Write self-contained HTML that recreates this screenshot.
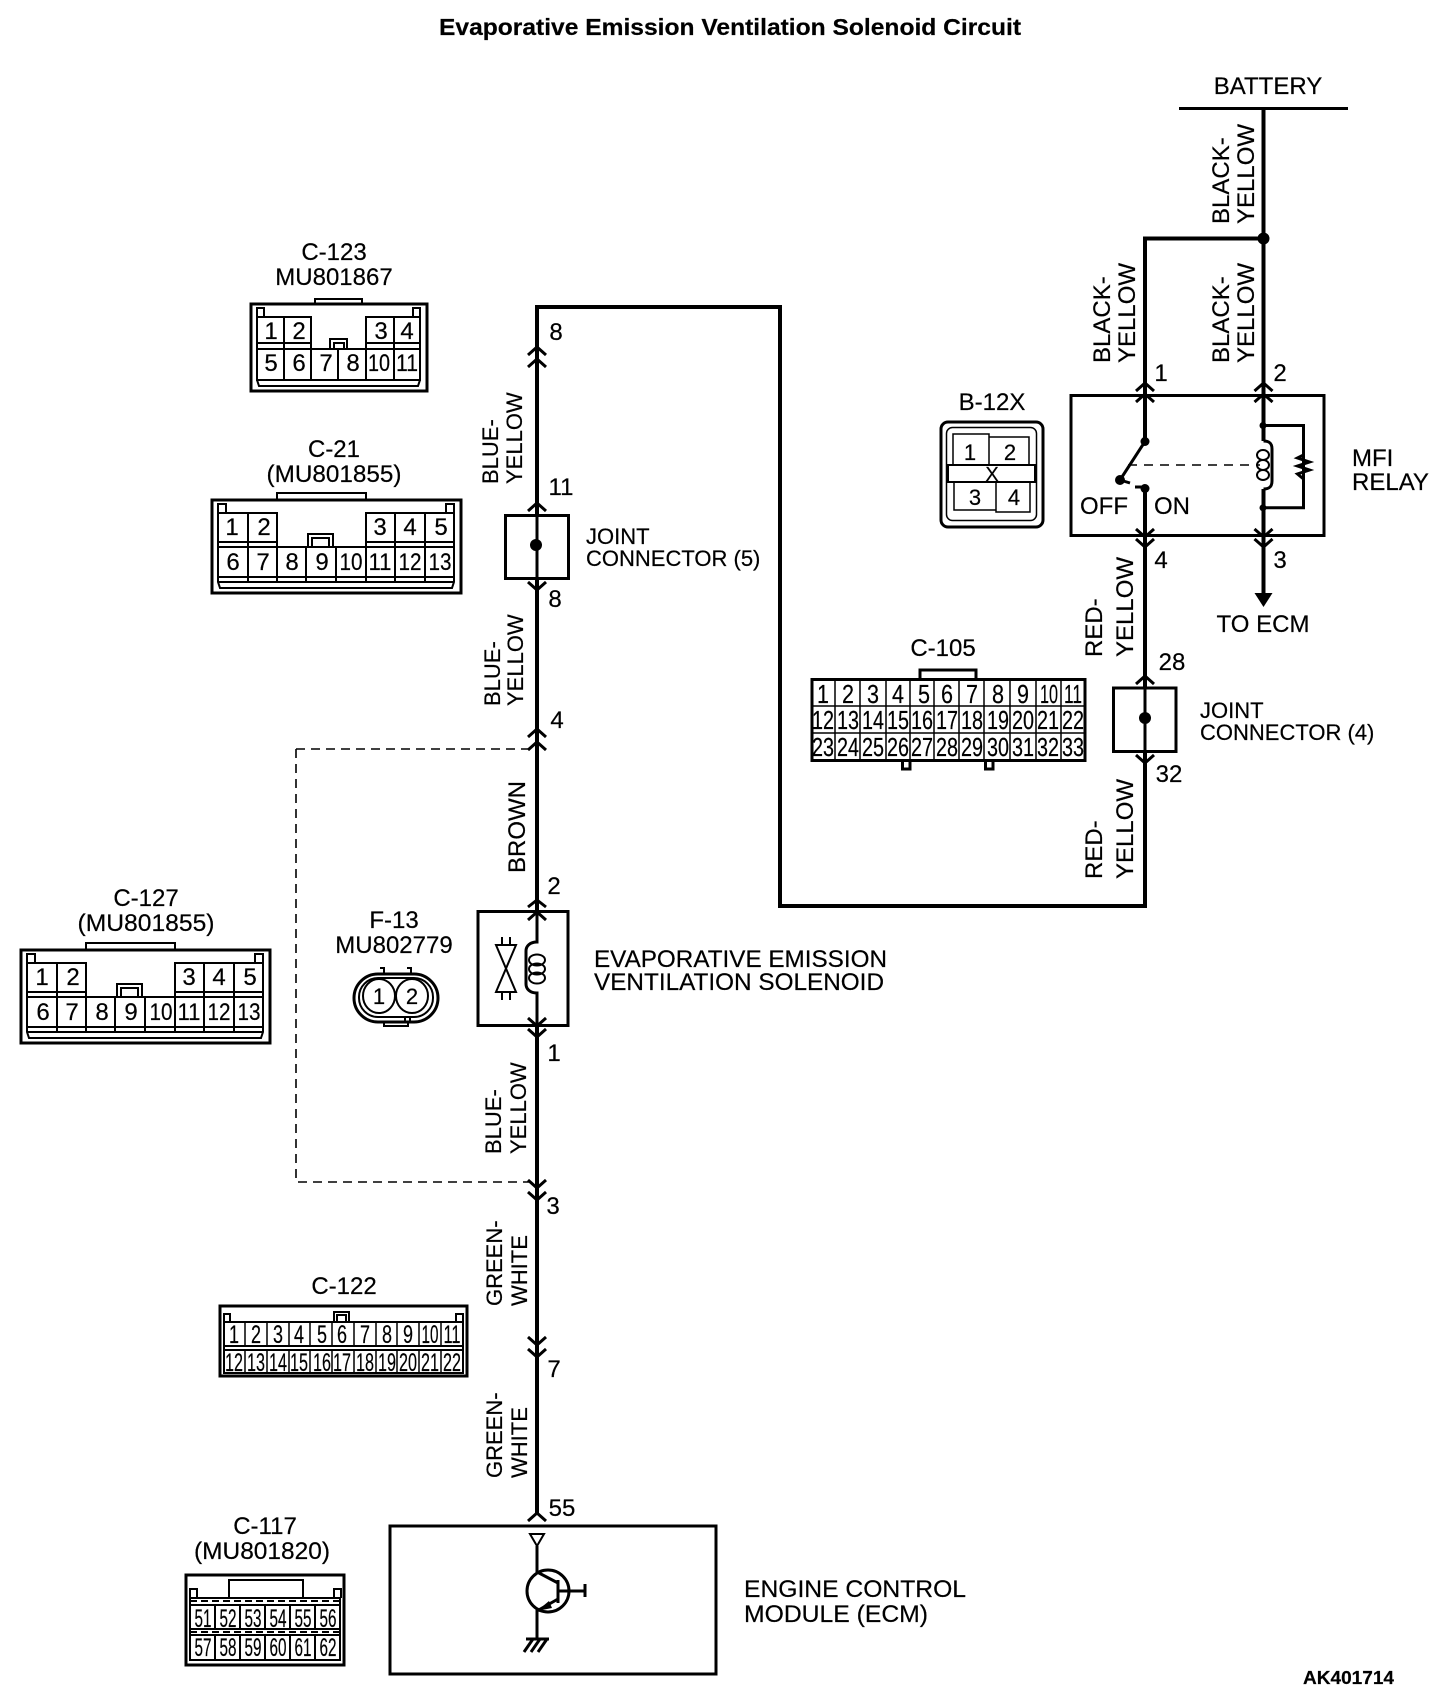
<!DOCTYPE html>
<html><head><meta charset="utf-8"><style>
html,body{margin:0;padding:0;background:#fff}
svg{display:block}
text{font-family:"Liberation Sans",Arial,sans-serif;fill:#000;stroke:#000;stroke-width:.2px}
.l{font-size:24px}.m{font-size:22px}.c{text-anchor:middle}
.n{font-size:24px;text-anchor:middle}
.d{font-size:26px;text-anchor:middle}
.s{font-size:25px;text-anchor:middle}
.w{fill:none;stroke:#000;stroke-width:4}
.b{fill:none;stroke:#000;stroke-width:3}
.h{fill:none;stroke:#000;stroke-width:2}
.t{fill:none;stroke:#000;stroke-width:1.5}
.ch{fill:none;stroke:#000;stroke-width:3}
</style></head><body>
<svg width="1456" height="1706" viewBox="0 0 1456 1706" xmlns="http://www.w3.org/2000/svg">
<rect width="1456" height="1706" fill="#fff"/>
<text x="730" y="35" text-anchor="middle" font-weight="bold" font-size="23" textLength="582" lengthAdjust="spacingAndGlyphs">Evaporative Emission Ventilation Solenoid Circuit</text>
<text x="1303" y="1684" font-weight="bold" font-size="18" textLength="91" lengthAdjust="spacingAndGlyphs">AK401714</text>

<!-- main wires -->
<path class="w" d="M537 1513V307H780V906H1145V495"/>
<path class="w" d="M1145 495V238.500H1263.500"/>
<path class="w" d="M1263.500 108V595"/>
<path class="b" d="M1179 108.500H1348"/>
<circle cx="1263.500" cy="238.500" r="6"/>
<path d="M1254.500 593H1272.500L1263.500 607Z"/>
<path d="M296 749H530M296 749V1182H530" fill="none" stroke="#000" stroke-width="1.6" stroke-dasharray="9 6"/>

<!-- white gaps inside relay handled by overlay -->
<rect x="1072" y="397" width="251" height="137" fill="#fff"/>
<path class="b" d="M1071 395.500H1324V535.500H1071Z"/>
<path class="w" d="M1145 395V441M1145 489V536"/>
<path class="w" d="M1263.500 395V441M1263.500 489V536"/>
<circle cx="1145" cy="441.500" r="4.500"/><circle cx="1120" cy="480" r="5"/><circle cx="1145" cy="488.500" r="4.500"/>
<path class="b" d="M1145 441.500L1120 480M1120 480L1130 483M1135 487H1145"/>
<path fill="none" stroke="#000" stroke-width="1.600" stroke-dasharray="9 7" d="M1128 465H1260"/>
<circle cx="1263" cy="425.500" r="3.500"/><circle cx="1263" cy="507.800" r="3.500"/>
<path class="b" d="M1263 425.500H1303.500V507.800H1263"/>
<path class="b" d="M1303.500 455L1297.500 458L1309.500 462L1297.500 466L1309.500 470L1297.500 474L1303.500 479"/>
<path class="b" d="M1263.500 441C1270 441 1272 444 1272 449V481C1272 486 1270 489 1263.500 489"/>
<ellipse cx="1263" cy="455" rx="6" ry="5" class="h"/><ellipse cx="1263" cy="465" rx="6" ry="5" class="h"/><ellipse cx="1263" cy="475" rx="6" ry="5" class="h"/>

<!-- chevrons relay -->
<path class="ch" d="M1136 391L1145 383L1154 391M1136 402L1145 394L1154 402M1136 529L1145 537L1154 529M1136 539L1145 547L1154 539"/>
<path class="ch" d="M1254.500 391L1263.500 383L1272.500 391M1254.500 402L1263.500 394L1272.500 402M1254.500 529L1263.500 537L1272.500 529M1254.500 539L1263.500 547L1272.500 539"/>
<path class="ch" d="M1136 684L1145 676L1154 684M1136 755L1145 763L1154 755"/>

<text class="l c" x="1268" y="94">BATTERY</text>
<text class="l" transform="rotate(-90 1229 224)" x="1229" y="224">BLACK-</text>
<text class="l" transform="rotate(-90 1254 224)" x="1254" y="224">YELLOW</text>
<text class="l" transform="rotate(-90 1110 363)" x="1110" y="363">BLACK-</text>
<text class="l" transform="rotate(-90 1135 363)" x="1135" y="363">YELLOW</text>
<text class="l" transform="rotate(-90 1229 363)" x="1229" y="363">BLACK-</text>
<text class="l" transform="rotate(-90 1254 363)" x="1254" y="363">YELLOW</text>
<text class="l c" x="1161" y="381">1</text><text class="l c" x="1280" y="381">2</text>
<text class="l c" x="1161" y="568">4</text><text class="l c" x="1280" y="568">3</text>
<text class="l" x="1080" y="514">OFF</text><text class="l" x="1154" y="514">ON</text>
<text class="l" x="1352" y="466">MFI</text><text class="l" x="1352" y="490">RELAY</text>
<text class="l c" x="1263" y="632">TO ECM</text>
<text class="l" transform="rotate(-90 1102 657)" x="1102" y="657">RED-</text>
<text class="l" transform="rotate(-90 1133 657)" x="1133" y="657">YELLOW</text>
<text class="l" transform="rotate(-90 1102 879)" x="1102" y="879">RED-</text>
<text class="l" transform="rotate(-90 1133 879)" x="1133" y="879">YELLOW</text>

<!-- B-12X -->
<text class="l c" x="992" y="410">B-12X</text>
<rect x="941" y="422" width="102" height="105" rx="7" class="b"/>
<rect x="946.500" y="427.500" width="90" height="93" rx="6" class="t"/>
<path class="t" d="M953 465V434H989V465M989 437H1029V465M954 482V510H996V482M996 482V512H1030V482"/>
<rect x="948" y="465" width="87" height="17" fill="#fff" stroke="#000" stroke-width="2"/>
<text x="992" y="481" text-anchor="middle" font-size="20">X</text>
<text class="m c" x="970" y="460">1</text><text class="m c" x="1010" y="460">2</text>
<text class="m c" x="975" y="505">3</text><text class="m c" x="1014" y="505">4</text>

<!-- Joint connector 4 -->
<rect x="1113.500" y="688" width="62.500" height="63.500" fill="#fff" stroke="#000" stroke-width="3"/>
<path class="b" d="M1145 680V765"/>
<circle cx="1145" cy="718" r="6"/>
<text class="m" x="1200" y="718">JOINT</text>
<text class="m" x="1200" y="740">CONNECTOR (4)</text>
<text class="l c" x="1172" y="670">28</text><text class="l c" x="1169" y="782">32</text>

<!-- C-105 -->
<text class="l c" x="943" y="656">C-105</text>
<path class="b" d="M920 679V670H976V679M902.500 761V769H910V761M985.500 761V769H993V761"/>
<rect x="812" y="679.500" width="273" height="81" fill="#fff" stroke="#000" stroke-width="3"/>
<path class="t" d="M812 706H1085M812 733H1085M835 680V760M860 680V760M886 680V760M910 680V760M934 680V760M959 680V760M984 680V760M1010 680V760M1036 680V760M1061 680V760"/>
<g class="d">
<text class="d" x="823" y="703" textLength="12" lengthAdjust="spacingAndGlyphs">1</text><text class="d" x="848" y="703" textLength="12" lengthAdjust="spacingAndGlyphs">2</text><text class="d" x="873" y="703" textLength="12" lengthAdjust="spacingAndGlyphs">3</text><text class="d" x="898" y="703" textLength="12" lengthAdjust="spacingAndGlyphs">4</text><text class="d" x="924" y="703" textLength="12" lengthAdjust="spacingAndGlyphs">5</text><text class="d" x="947" y="703" textLength="12" lengthAdjust="spacingAndGlyphs">6</text><text class="d" x="972" y="703" textLength="12" lengthAdjust="spacingAndGlyphs">7</text><text class="d" x="998" y="703" textLength="12" lengthAdjust="spacingAndGlyphs">8</text><text class="d" x="1023" y="703" textLength="12" lengthAdjust="spacingAndGlyphs">9</text><text class="d" x="1049" y="703" textLength="18" lengthAdjust="spacingAndGlyphs">10</text><text class="d" x="1073" y="703" textLength="18" lengthAdjust="spacingAndGlyphs">11</text>
<text class="d" x="823" y="729" textLength="22" lengthAdjust="spacingAndGlyphs">12</text><text class="d" x="848" y="729" textLength="22" lengthAdjust="spacingAndGlyphs">13</text><text class="d" x="873" y="729" textLength="22" lengthAdjust="spacingAndGlyphs">14</text><text class="d" x="898" y="729" textLength="22" lengthAdjust="spacingAndGlyphs">15</text><text class="d" x="922" y="729" textLength="22" lengthAdjust="spacingAndGlyphs">16</text><text class="d" x="947" y="729" textLength="22" lengthAdjust="spacingAndGlyphs">17</text><text class="d" x="972" y="729" textLength="22" lengthAdjust="spacingAndGlyphs">18</text><text class="d" x="998" y="729" textLength="22" lengthAdjust="spacingAndGlyphs">19</text><text class="d" x="1023" y="729" textLength="22" lengthAdjust="spacingAndGlyphs">20</text><text class="d" x="1048" y="729" textLength="22" lengthAdjust="spacingAndGlyphs">21</text><text class="d" x="1073" y="729" textLength="22" lengthAdjust="spacingAndGlyphs">22</text>
<text class="d" x="823" y="756" textLength="22" lengthAdjust="spacingAndGlyphs">23</text><text class="d" x="848" y="756" textLength="22" lengthAdjust="spacingAndGlyphs">24</text><text class="d" x="873" y="756" textLength="22" lengthAdjust="spacingAndGlyphs">25</text><text class="d" x="898" y="756" textLength="22" lengthAdjust="spacingAndGlyphs">26</text><text class="d" x="922" y="756" textLength="22" lengthAdjust="spacingAndGlyphs">27</text><text class="d" x="947" y="756" textLength="22" lengthAdjust="spacingAndGlyphs">28</text><text class="d" x="972" y="756" textLength="22" lengthAdjust="spacingAndGlyphs">29</text><text class="d" x="998" y="756" textLength="22" lengthAdjust="spacingAndGlyphs">30</text><text class="d" x="1023" y="756" textLength="22" lengthAdjust="spacingAndGlyphs">31</text><text class="d" x="1048" y="756" textLength="22" lengthAdjust="spacingAndGlyphs">32</text><text class="d" x="1073" y="756" textLength="22" lengthAdjust="spacingAndGlyphs">33</text>
</g>

<!-- left wire chevrons -->
<path class="ch" d="M528 355L537 347L546 355M528 367L537 359L546 367M528 511L537 503L546 511M528 582L537 590L546 582M528 737L537 729L546 737M528 750L537 742L546 750"/>
<path class="ch" d="M528 907L537 900L546 907M528 920L537 912L546 920M528 1018L537 1026L546 1018M528 1029L537 1037L546 1029"/>
<path class="ch" d="M528 1180L537 1188L546 1180M528 1192L537 1200L546 1192M528 1337L537 1345L546 1337M528 1349L537 1357L546 1349M528 1521L537 1513L546 1521"/>

<text class="l c" x="556" y="340">8</text>
<text class="l c" x="561" y="495">11</text>
<text class="l c" x="555" y="607">8</text>
<text class="l c" x="557" y="728">4</text>
<text class="l c" x="554" y="894">2</text>
<text class="l c" x="554" y="1061">1</text>
<text class="l c" x="553" y="1214">3</text>
<text class="l c" x="554" y="1377">7</text>
<text class="l c" x="562" y="1516">55</text>
<g class="m">
<text class="m" transform="rotate(-90 498 484)" x="498" y="484">BLUE-</text>
<text class="m" transform="rotate(-90 522 484)" x="522" y="484">YELLOW</text>
<text class="m" transform="rotate(-90 500 706)" x="500" y="706">BLUE-</text>
<text class="m" transform="rotate(-90 523 706)" x="523" y="706">YELLOW</text>
<text class="l" transform="rotate(-90 525 873)" x="525" y="873">BROWN</text>
<text class="m" transform="rotate(-90 501 1154)" x="501" y="1154">BLUE-</text>
<text class="m" transform="rotate(-90 526 1154)" x="526" y="1154">YELLOW</text>
<text class="m" transform="rotate(-90 502 1306)" x="502" y="1306">GREEN-</text>
<text class="m" transform="rotate(-90 527 1306)" x="527" y="1306">WHITE</text>
<text class="m" transform="rotate(-90 502 1478)" x="502" y="1478">GREEN-</text>
<text class="m" transform="rotate(-90 527 1478)" x="527" y="1478">WHITE</text>
</g>

<!-- Joint 5 -->
<rect x="505.500" y="515.500" width="63" height="63" fill="#fff" stroke="#000" stroke-width="3"/>
<path class="b" d="M537 510V585"/><circle cx="536" cy="545" r="6"/>
<text class="m" x="586" y="544">JOINT</text><text class="m" x="586" y="566">CONNECTOR (5)</text>

<!-- Solenoid -->
<rect x="478" y="911.500" width="90" height="114" fill="#fff" stroke="#000" stroke-width="3"/>
<path class="ch" d="M528 920L537 912L546 920M528 1018L537 1026L546 1018"/>
<path class="b" d="M537 905V942C530 942 526 946 526 951V984C526 989 530 993 537 993V1030"/>
<ellipse cx="537" cy="960" rx="8" ry="5.500" class="h"/><ellipse cx="537" cy="969" rx="8" ry="5.500" class="h"/><ellipse cx="537" cy="978" rx="8" ry="5.500" class="h"/>
<path class="h" d="M496 945H516L496 992H516ZM502 937V945M510 937V945M502 992V1000M510 992V1000"/>
<text class="l" x="594" y="967" textLength="293" lengthAdjust="spacingAndGlyphs">EVAPORATIVE EMISSION</text>
<text class="l" x="594" y="990" textLength="290" lengthAdjust="spacingAndGlyphs">VENTILATION SOLENOID</text>

<!-- F-13 -->
<text class="l c" x="394" y="928">F-13</text>
<text class="l c" x="394" y="953">MU802779</text>
<rect x="354" y="974" width="84" height="48" rx="24" class="b"/>
<rect x="359" y="978" width="74" height="39" rx="19" class="h"/>
<ellipse cx="379" cy="996" rx="16" ry="17" fill="#fff" stroke="#000" stroke-width="2"/>
<ellipse cx="412" cy="996" rx="16" ry="17" fill="#fff" stroke="#000" stroke-width="2"/>
<path class="h" d="M380 968H384V974M407 968H411V974M384 1022V1026H408V1022M405 1017V1022M410 1017V1022"/>
<text class="m c" x="379" y="1004">1</text><text class="m c" x="412" y="1004">2</text>

<!-- C-123 -->
<text class="l c" x="334" y="260">C-123</text>
<text class="l c" x="334" y="285">MU801867</text>
<path class="h" d="M315 303V299H362V303"/>
<rect x="251" y="304" width="176" height="87" class="b"/>
<path class="h" d="M257 317V308H264V317M413 317V308H420V317"/>
<path class="h" d="M257 317H311V349H257ZM366 317H420V349H366ZM257 343H311M366 343H420M284 317V349M394 317V349"/>
<path class="h" d="M257 349V380H420V349M311 349H366M284 349V380M311 349V380M338 349V380M366 349V380M394 349V380M257 380L259 386H418L420 380"/>
<path class="h" d="M330 349V339H347V349M334 349V343H344V349"/>
<text class="n" x="271" y="339">1</text><text class="n" x="299" y="339">2</text><text class="n" x="381" y="339">3</text><text class="n" x="407" y="339">4</text>
<text class="n" x="271" y="371">5</text><text class="n" x="299" y="371">6</text><text class="n" x="326" y="371">7</text><text class="n" x="353" y="371">8</text>
<text class="n" x="379" y="371" textLength="22" lengthAdjust="spacingAndGlyphs">10</text><text class="n" x="407" y="371" textLength="22" lengthAdjust="spacingAndGlyphs">11</text>

<!-- C-21 -->
<text class="l c" x="334" y="457">C-21</text>
<text class="l c" x="334" y="482" textLength="135" lengthAdjust="spacingAndGlyphs">(MU801855)</text>
<g>
<path class="h" d="M277 499V493H366V499"/>
<rect x="212" y="500" width="249" height="93" class="b"/>
<path class="h" d="M218 513V504H226V513M446 513V504H454V513"/>
<path class="h" d="M218 513H277V547H218ZM366 513H454V547H366ZM218 542H277M366 542H454M248 513V547M395 513V547M425 513V547"/>
<path class="h" d="M218 547V582L220 588H452L454 582V547M277 547H366M218 577H454M218 582H454M248 547V582M277 547V582M306 547V582M336 547V582M366 547V582M395 547V582M425 547V582"/>
<path class="h" d="M308 547V534H333V547M312 547V538H329V547"/>
<text class="n" x="232" y="535">1</text><text class="n" x="264" y="535">2</text><text class="n" x="380" y="535">3</text><text class="n" x="410" y="535">4</text><text class="n" x="441" y="535">5</text>
<text class="n" x="233" y="570">6</text><text class="n" x="263" y="570">7</text><text class="n" x="292" y="570">8</text><text class="n" x="322" y="570">9</text>
<text class="n" x="351" y="570" textLength="23" lengthAdjust="spacingAndGlyphs">10</text><text class="n" x="380" y="570" textLength="23" lengthAdjust="spacingAndGlyphs">11</text><text class="n" x="410" y="570" textLength="23" lengthAdjust="spacingAndGlyphs">12</text><text class="n" x="440" y="570" textLength="23" lengthAdjust="spacingAndGlyphs">13</text>
</g>

<!-- C-127 -->
<text class="l c" x="146" y="906">C-127</text>
<text class="l c" x="146" y="931" textLength="137" lengthAdjust="spacingAndGlyphs">(MU801855)</text>
<g transform="translate(-191 450)">
<path class="h" d="M277 499V493H366V499"/>
<rect x="212" y="500" width="249" height="93" class="b"/>
<path class="h" d="M218 513V504H226V513M446 513V504H454V513"/>
<path class="h" d="M218 513H277V547H218ZM366 513H454V547H366ZM218 542H277M366 542H454M248 513V547M395 513V547M425 513V547"/>
<path class="h" d="M218 547V582L220 588H452L454 582V547M277 547H366M218 577H454M218 582H454M248 547V582M277 547V582M306 547V582M336 547V582M366 547V582M395 547V582M425 547V582"/>
<path class="h" d="M308 547V534H333V547M312 547V538H329V547"/>
<text class="n" x="233" y="535">1</text><text class="n" x="264" y="535">2</text><text class="n" x="380" y="535">3</text><text class="n" x="410" y="535">4</text><text class="n" x="441" y="535">5</text>
<text class="n" x="234" y="570">6</text><text class="n" x="263" y="570">7</text><text class="n" x="293" y="570">8</text><text class="n" x="322" y="570">9</text>
<text class="n" x="352" y="570" textLength="23" lengthAdjust="spacingAndGlyphs">10</text><text class="n" x="380" y="570" textLength="23" lengthAdjust="spacingAndGlyphs">11</text><text class="n" x="410" y="570" textLength="23" lengthAdjust="spacingAndGlyphs">12</text><text class="n" x="440" y="570" textLength="23" lengthAdjust="spacingAndGlyphs">13</text>
</g>

<!-- C-122 -->
<text class="l c" x="344" y="1294">C-122</text>
<rect x="220" y="1306" width="247" height="70" class="b"/>
<path class="h" d="M224 1322V1314H230V1322M456 1322V1314H463V1322M334 1322V1312H349V1322M337 1322V1315H346V1322"/>
<path class="h" d="M224 1322H463V1373H224ZM224 1346H463M224 1350H463"/>
<path class="t" d="M245 1322V1346M267 1322V1346M289 1322V1346M310 1322V1346M332 1322V1346M354 1322V1346M376 1322V1346M397 1322V1346M419 1322V1346M441 1322V1346M245 1350V1373M267 1350V1373M289 1350V1373M310 1350V1373M332 1350V1373M354 1350V1373M376 1350V1373M397 1350V1373M419 1350V1373M441 1350V1373"/>
<text class="s" x="234" y="1343" textLength="10" lengthAdjust="spacingAndGlyphs">1</text><text class="s" x="256" y="1343" textLength="10" lengthAdjust="spacingAndGlyphs">2</text><text class="s" x="278" y="1343" textLength="10" lengthAdjust="spacingAndGlyphs">3</text><text class="s" x="299" y="1343" textLength="10" lengthAdjust="spacingAndGlyphs">4</text><text class="s" x="322" y="1343" textLength="10" lengthAdjust="spacingAndGlyphs">5</text><text class="s" x="342" y="1343" textLength="10" lengthAdjust="spacingAndGlyphs">6</text><text class="s" x="365" y="1343" textLength="10" lengthAdjust="spacingAndGlyphs">7</text><text class="s" x="387" y="1343" textLength="10" lengthAdjust="spacingAndGlyphs">8</text><text class="s" x="408" y="1343" textLength="10" lengthAdjust="spacingAndGlyphs">9</text><text class="s" x="430" y="1343" textLength="17" lengthAdjust="spacingAndGlyphs">10</text><text class="s" x="452" y="1343" textLength="17" lengthAdjust="spacingAndGlyphs">11</text>
<text class="s" x="234" y="1371" textLength="18" lengthAdjust="spacingAndGlyphs">12</text><text class="s" x="256" y="1371" textLength="18" lengthAdjust="spacingAndGlyphs">13</text><text class="s" x="278" y="1371" textLength="18" lengthAdjust="spacingAndGlyphs">14</text><text class="s" x="299" y="1371" textLength="18" lengthAdjust="spacingAndGlyphs">15</text><text class="s" x="322" y="1371" textLength="18" lengthAdjust="spacingAndGlyphs">16</text><text class="s" x="342" y="1371" textLength="18" lengthAdjust="spacingAndGlyphs">17</text><text class="s" x="365" y="1371" textLength="18" lengthAdjust="spacingAndGlyphs">18</text><text class="s" x="387" y="1371" textLength="18" lengthAdjust="spacingAndGlyphs">19</text><text class="s" x="408" y="1371" textLength="18" lengthAdjust="spacingAndGlyphs">20</text><text class="s" x="430" y="1371" textLength="18" lengthAdjust="spacingAndGlyphs">21</text><text class="s" x="452" y="1371" textLength="18" lengthAdjust="spacingAndGlyphs">22</text>

<!-- C-117 -->
<text class="l c" x="265" y="1534">C-117</text>
<text class="l c" x="262" y="1559" textLength="136" lengthAdjust="spacingAndGlyphs">(MU801820)</text>
<rect x="186" y="1575" width="158" height="90" class="b"/>
<path class="h" d="M190 1598V1589H197V1598M334 1598V1589H341V1598M229 1598V1580H303V1598"/>
<path class="h" d="M190 1598H340V1660H190Z"/>
<path class="h" stroke-dasharray="7 4" d="M190 1601H340M190 1632H340"/>
<path class="h" d="M190 1605H340M190 1629H340M190 1635H340M215 1605V1629M240 1605V1629M265 1605V1629M290 1605V1629M315 1605V1629M215 1635V1660M240 1635V1660M265 1635V1660M290 1635V1660M315 1635V1660"/>
<text class="s" x="203" y="1627" textLength="17" lengthAdjust="spacingAndGlyphs">51</text><text class="s" x="228" y="1627" textLength="17" lengthAdjust="spacingAndGlyphs">52</text><text class="s" x="253" y="1627" textLength="17" lengthAdjust="spacingAndGlyphs">53</text><text class="s" x="278" y="1627" textLength="17" lengthAdjust="spacingAndGlyphs">54</text><text class="s" x="303" y="1627" textLength="17" lengthAdjust="spacingAndGlyphs">55</text><text class="s" x="328" y="1627" textLength="17" lengthAdjust="spacingAndGlyphs">56</text>
<text class="s" x="203" y="1656" textLength="17" lengthAdjust="spacingAndGlyphs">57</text><text class="s" x="228" y="1656" textLength="17" lengthAdjust="spacingAndGlyphs">58</text><text class="s" x="253" y="1656" textLength="17" lengthAdjust="spacingAndGlyphs">59</text><text class="s" x="278" y="1656" textLength="17" lengthAdjust="spacingAndGlyphs">60</text><text class="s" x="303" y="1656" textLength="17" lengthAdjust="spacingAndGlyphs">61</text><text class="s" x="328" y="1656" textLength="17" lengthAdjust="spacingAndGlyphs">62</text>

<!-- ECM -->
<rect x="390" y="1526" width="326" height="148" fill="#fff" stroke="#000" stroke-width="3"/>
<path class="h" d="M530 1534H544L537 1546Z"/>
<path class="b" d="M537 1546V1572L558 1583M558 1599L537 1611V1638M558 1580V1603M558 1591H585M585 1584V1597"/>
<ellipse cx="548" cy="1591" rx="21" ry="21" class="b"/>
<path d="M537 1611L549 1601L552 1608Z"/>
<path class="b" d="M526 1639H549M533 1639L524 1652M540 1639L531 1652M547 1639L538 1652"/>
<text class="l" x="744" y="1597" textLength="222" lengthAdjust="spacingAndGlyphs">ENGINE CONTROL</text>
<text class="l" x="744" y="1622" textLength="184" lengthAdjust="spacingAndGlyphs">MODULE (ECM)</text>
</svg>
</body></html>
